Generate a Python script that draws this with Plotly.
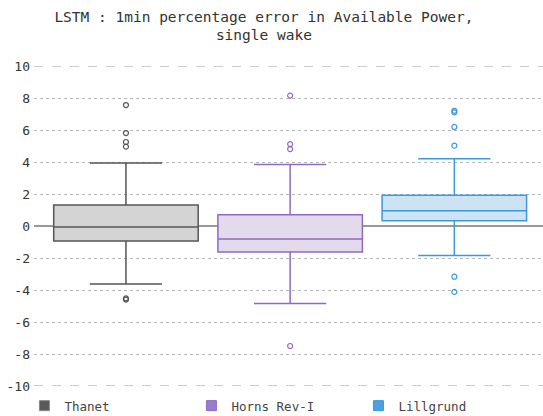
import plotly.graph_objects as go

names = ["Thanet", "Horns Rev-I", "Lillgrund"]
q1 = [-0.94, -1.63, 0.33]
median = [-0.06, -0.81, 0.96]
q3 = [1.31, 0.71, 1.92]
lowerfence = [-3.63, -4.85, -1.85]
upperfence = [3.94, 3.85, 4.21]
outliers = [
    [7.56, 5.81, 5.25, 4.96, -4.52, -4.6],
    [8.15, 5.12, 4.81, -7.5],
    [7.2, 7.1, 6.19, 5.02, -3.17, -4.12],
]
line_colors = ["#555555", "#8e6bbf", "#3a9ad9"]
fill_colors = ["#d4d4d4", "#e3dbec", "#cde3f4"]
legend_fill = ["#5a5a5a", "#9a7cc8", "#4aa3e0"]

FONT = "DejaVu Sans Mono"
fig = go.Figure()
for i, n in enumerate(names):
    fig.add_trace(go.Box(
        name=n, x=[n], q1=[q1[i]], median=[median[i]], q3=[q3[i]],
        lowerfence=[lowerfence[i]], upperfence=[upperfence[i]],
        line=dict(color=line_colors[i], width=1.5), fillcolor=fill_colors[i],
        whiskerwidth=0.5, boxpoints=False, width=0.88, showlegend=False,
    ))
for i, n in enumerate(names):
    fig.add_trace(go.Scatter(
        x=[n] * len(outliers[i]), y=outliers[i], mode="markers", showlegend=False,
        marker=dict(symbol="circle-open", size=5, color=line_colors[i], line=dict(width=1.2)),
        hoverinfo="y",
    ))
for i, n in enumerate(names):
    fig.add_trace(go.Scatter(
        x=[None], y=[None], mode="markers", name=n, showlegend=True,
        marker=dict(symbol="square", size=10, color=legend_fill[i],
                    line=dict(color="#888888" if i == 0 else line_colors[i], width=1)),
    ))

for yv in (10, -10):
    fig.add_shape(type="line", xref="paper", x0=0, x1=1, yref="y", y0=yv, y1=yv,
                  line=dict(color="#9a9a9a", width=1.2, dash="dash"), layer="below")

fig.update_layout(
    width=543, height=416,
    margin=dict(l=34, r=0, t=66, b=30, autoexpand=False),
    paper_bgcolor="white", plot_bgcolor="white",
    font=dict(family=FONT, size=13, color="#333333"),
    title=dict(text="LSTM : 1min percentage error in Available Power,<br>single wake",
               x=0.486, xref="container", xanchor="center", yref="container",
               y=1 - 21.5 / 416, yanchor="middle",
               font=dict(family=FONT, size=14.5, color="#333333")),
    showlegend=True,
    legend=dict(orientation="h", xref="container", x=0.045, xanchor="left",
                yref="container", y=10 / 416, yanchor="middle",
                entrywidth=122, entrywidthmode="pixels", itemwidth=30,
                bgcolor="rgba(0,0,0,0)",
                font=dict(family=FONT, size=12.5, color="#444444")),
    xaxis=dict(range=[-0.56, 2.54], showticklabels=False, showgrid=False,
               zeroline=False, showline=False, ticks="", fixedrange=True),
    yaxis=dict(range=[-10, 10], tickvals=[-10, -8, -6, -4, -2, 0, 2, 4, 6, 8, 10],
               ticktext=["-10", "-8", "-6", "-4", "-2", "0", "2", "4", "6", "8", "10"],
               showgrid=True, gridcolor="#b5b5b5", griddash="dot", gridwidth=1,
               zeroline=True, zerolinecolor="#999999", zerolinewidth=1.5,
               ticks="", ticklabelstandoff=3, showline=False, automargin=False,
               tickfont=dict(family=FONT, size=13, color="#333333")),
)

fig.write_html("out.html", config={"displayModeBar": False},
               post_script="document.body.style.margin='0px';")
